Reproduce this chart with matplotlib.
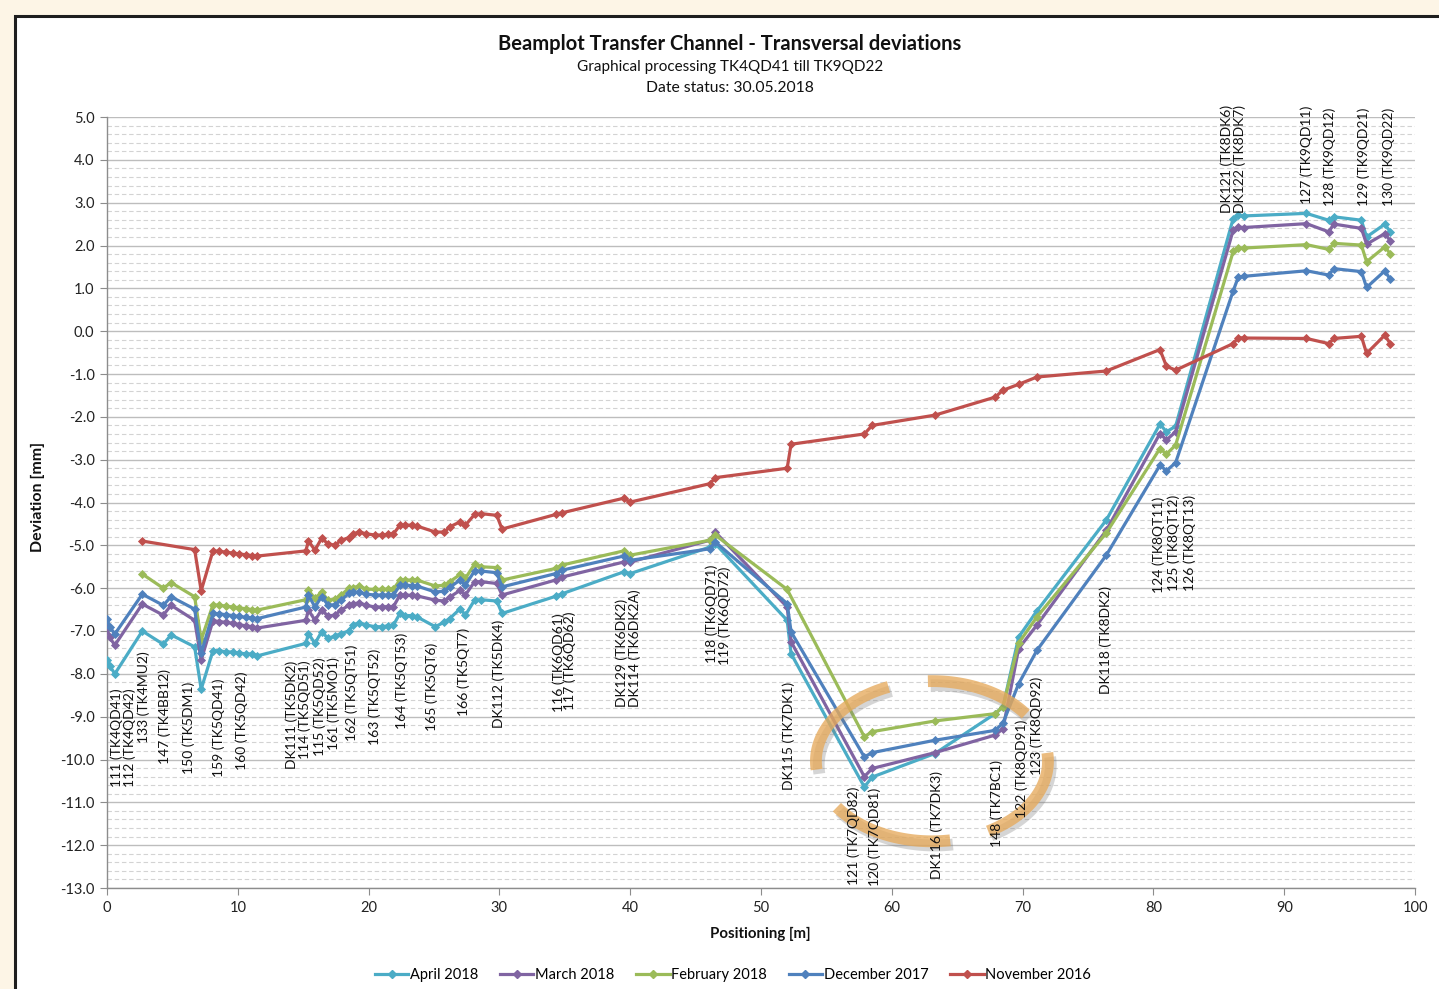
import numpy as np
import matplotlib
matplotlib.use("Agg")
import matplotlib.pyplot as plt
from matplotlib.patches import Rectangle
import matplotlib.patheffects as pe
from matplotlib.ticker import MultipleLocator, FormatStrFormatter
from matplotlib.lines import Line2D

plt.rcParams['font.family'] = ['Lato', 'DejaVu Sans']
plt.rcParams['axes.unicode_minus'] = False

# ---------------- data ----------------
stations_m = [0.0, 0.2, 0.6, 2.7, 4.3, 4.9, 6.7, 7.2, 8.1, 8.6, 9.1, 9.6, 10.1, 10.6, 11.1, 11.5,
              15.2, 15.4, 15.9, 16.4, 16.9, 17.4, 17.9, 18.5, 18.8, 19.3, 19.8, 20.5, 21.0, 21.5,
              21.9, 22.4, 22.8, 23.3, 23.7, 25.1, 25.8, 26.2, 27.0, 27.4, 28.1, 28.6, 29.8, 30.2,
              34.3, 34.8, 39.5, 40.0, 46.1, 46.5, 52.0, 52.3, 57.9, 58.5, 63.3, 67.9, 68.5, 69.7,
              71.1, 76.4, 80.5, 81.0, 81.7, 86.1, 86.5, 86.9, 91.7, 93.4, 93.8, 95.9, 96.3, 97.7, 98.1]

april_2018 = [-7.68, -7.81, -8.00, -7.00, -7.31, -7.09, -7.37, -8.36, -7.46, -7.46, -7.49, -7.49, -7.52, -7.53, -7.54, -7.58,
              -7.29, -7.06, -7.29, -7.02, -7.17, -7.12, -7.06, -7.00, -6.86, -6.81, -6.86, -6.90, -6.90, -6.88,
              -6.86, -6.59, -6.64, -6.64, -6.67, -6.90, -6.79, -6.71, -6.48, -6.63, -6.28, -6.27, -6.30, -6.59,
              -6.19, -6.13, -5.62, -5.66, -5.04, -4.96, -6.75, -7.53, -10.64, -10.41, -9.86, -8.93, -8.77, -7.14,
              -6.53, -4.41, -2.17, -2.35, -2.22, 2.63, 2.71, 2.69, 2.75, 2.59, 2.67, 2.59, 2.20, 2.50, 2.32]

march_2018 = [-6.93, -7.15, -7.33, -6.37, -6.63, -6.40, -6.75, -7.68, -6.76, -6.78, -6.80, -6.82, -6.85, -6.88, -6.90, -6.93,
              -6.75, -6.51, -6.75, -6.51, -6.65, -6.63, -6.51, -6.40, -6.37, -6.34, -6.40, -6.44, -6.44, -6.43,
              -6.43, -6.16, -6.16, -6.17, -6.18, -6.28, -6.30, -6.21, -6.05, -6.16, -5.85, -5.85, -5.89, -6.16,
              -5.81, -5.74, -5.39, -5.39, -4.88, -4.69, -6.44, -7.25, -10.40, -10.21, -9.84, -9.43, -9.28, -7.41,
              -6.86, -4.65, -2.39, -2.54, -2.35, 2.36, 2.43, 2.42, 2.51, 2.32, 2.50, 2.40, 2.03, 2.28, 2.11]

february_2018 = [None, None, None, -5.67, -6.00, -5.87, -6.20, -7.21, -6.39, -6.40, -6.42, -6.44, -6.46, -6.48, -6.50, -6.51,
                 -6.27, -6.05, -6.24, -6.09, -6.28, -6.26, -6.16, -6.00, -5.99, -5.95, -6.02, -6.03, -6.03, -6.02,
                 -6.02, -5.81, -5.81, -5.81, -5.81, -5.95, -5.93, -5.85, -5.68, -5.77, -5.44, -5.50, -5.52, -5.81,
                 -5.54, -5.46, -5.13, -5.23, -4.88, -4.76, -6.03, None, -9.47, -9.35, -9.10, -8.93, -8.77, -7.28,
                 -6.67, -4.71, -2.74, -2.87, -2.66, 1.86, 1.93, 1.94, 2.02, 1.91, 2.05, 2.01, 1.62, 1.97, 1.81]

december_2017 = [-6.72, -6.90, -7.07, -6.14, -6.40, -6.20, -6.49, -7.52, -6.59, -6.60, -6.62, -6.64, -6.66, -6.68, -6.70, -6.71,
                 -6.44, -6.16, -6.44, -6.20, -6.39, -6.39, -6.28, -6.12, -6.10, -6.09, -6.14, -6.16, -6.16, -6.16,
                 -6.16, -5.93, -5.93, -5.94, -5.95, -6.09, -6.07, -5.98, -5.81, -5.93, -5.60, -5.60, -5.64, -5.97,
                 -5.66, -5.58, -5.25, -5.35, -5.08, -4.92, -6.36, -7.02, -9.94, -9.84, -9.55, -9.32, -9.15, -8.23,
                 -7.45, -5.23, -3.13, -3.26, -3.07, 0.94, 1.27, 1.28, 1.41, 1.31, 1.46, 1.39, 1.02, 1.41, 1.21]

november_2016 = [None, None, None, -4.90, None, None, -5.10, -6.06, -5.13, -5.14, -5.16, -5.18, -5.20, -5.22, -5.24, -5.25,
                 -5.13, -4.90, -5.11, -4.84, -4.96, -5.00, -4.88, -4.82, -4.73, -4.69, -4.73, -4.76, -4.76, -4.74,
                 -4.73, -4.53, -4.53, -4.53, -4.55, -4.69, -4.69, -4.57, -4.45, -4.53, -4.28, -4.26, -4.30, -4.62,
                 -4.28, -4.24, -3.90, -3.99, -3.56, -3.42, -3.20, -2.64, -2.40, -2.20, -1.96, -1.54, -1.38, -1.24,
                 -1.07, -0.93, -0.43, -0.82, -0.91, -0.29, -0.15, -0.16, -0.17, -0.29, -0.17, -0.12, -0.52, -0.09, -0.29]

series_names = ["April 2018", "March 2018", "February 2018", "December 2017", "November 2016"]
series_values = [april_2018, march_2018, february_2018, december_2017, november_2016]
series_colors = ["#4BACC6", "#8064A2", "#9BBB59", "#4F81BD", "#C0504D"]

element_labels = ["111 (TK4QD41)", "112 (TK4QD42)", "133 (TK4MU2)", "147 (TK4BB12)", "150 (TK5DM1)",
                  "159 (TK5QD41)", "160 (TK5QD42)", "DK111 (TK5DK2)", "114 (TK5QD51)", "115 (TK5QD52)",
                  "161 (TK5MO1)", "162 (TK5QT51)", "163 (TK5QT52)", "164 (TK5QT53)", "165 (TK5QT6)",
                  "166 (TK5QT7)", "DK112 (TK5DK4)", "116 (TK6QD61)", "117 (TK6QD62)", "DK129 (TK6DK2)",
                  "DK114 (TK6DK2A)", "118 (TK6QD71)", "119 (TK6QD72)", "DK115 (TK7DK1)", "121 (TK7QD82)",
                  "120 (TK7QD81)", "DK116 (TK7DK3)", "148 (TK7BC1)", "122 (TK8QD91)", "123 (TK8QD92)",
                  "DK118 (TK8DK2)", "124 (TK8QT11)", "125 (TK8QT12)", "126 (TK8QT13)", "DK121 (TK8DK6)",
                  "DK122 (TK8DK7)", "127 (TK9QD11)", "128 (TK9QD12)", "129 (TK9QD21)", "130 (TK9QD22)"]
label_x = [0.74, 1.76, 2.78, 4.43, 6.22, 8.51, 10.30, 14.12, 15.14, 16.23, 17.30, 18.71, 20.49, 22.53,
           24.82, 27.24, 29.92, 34.50, 35.40, 39.35, 40.37, 46.23, 47.25, 52.09, 57.06, 58.72, 63.43,
           68.02, 69.93, 71.08, 76.38, 80.38, 81.52, 82.80, 85.60, 86.62, 91.72, 93.50, 96.05, 97.96]
label_y = [-9.50, -9.50, -8.55, -9.00, -9.27, -9.26, -9.09, -8.96, -8.84, -8.76, -8.69, -8.44, -8.54, -8.17,
           -8.30, -7.95, -7.99, -7.74, -7.70, -7.51, -7.41, -6.59, -6.65, -9.45, -11.79, -11.81, -11.52,
           -11.03, -10.21, -9.22, -7.21, -4.98, -4.94, -4.94, 4.01, 4.01, 4.11, 4.07, 4.07, 4.07]

# highlight ring (decoration): centre, radii and arc segments in degrees
ring_center = (63.07, -10.04)
ring_radii = (8.87, 1.87)
ring_segments = [(112, 186), (36, 92), (215, 279), (299, 366)]

# ---------------- figure ----------------
W, H = 1439, 989
fig = plt.figure(figsize=(W / 100, H / 100), dpi=100)
fig.patch.set_facecolor("#FDF5E6")

frame = Rectangle((15 / W, -0.05), 1.2, 1.05 - 16 / H, transform=fig.transFigure,
                  facecolor="white", edgecolor="#1E1E1E", linewidth=2.2, zorder=0)
fig.add_artist(frame)

ax = fig.add_axes([107 / W, 1 - 888 / H, (1415 - 107) / W, (888 - 117) / H])
ax.set_facecolor("white")

for name, vals, col in zip(series_names, series_values, series_colors):
    xs = [x for x, v in zip(stations_m, vals) if v is not None]
    ys = [v for v in vals if v is not None]
    ax.plot(xs, ys, color=col, lw=2.3, marker="D", markersize=3.8,
            markeredgewidth=0.6, label=name, zorder=3)

ax.set_xlim(0, 100)
ax.set_ylim(-13, 5)
ax.xaxis.set_major_locator(MultipleLocator(10))
ax.yaxis.set_major_locator(MultipleLocator(1))
ax.yaxis.set_minor_locator(MultipleLocator(0.2))
ax.yaxis.set_major_formatter(FormatStrFormatter("%.1f"))

ax.yaxis.grid(True, which="major", color="#BDBDBD", lw=1.0, zorder=0)
ax.yaxis.grid(True, which="minor", color="#D3D3D3", lw=0.8, ls=(0, (4, 2.5)), zorder=0)
ax.set_axisbelow(True)

for s in ["top", "right"]:
    ax.spines[s].set_visible(False)
for s in ["left", "bottom"]:
    ax.spines[s].set_color("#8C8C8C")
    ax.spines[s].set_linewidth(1.0)
ax.tick_params(axis="both", which="major", length=5, color="#8C8C8C",
               labelsize=10.5, labelcolor="#222222", pad=4)
ax.tick_params(axis="y", which="minor", length=0)

ax.set_ylabel("Deviation [mm]", fontsize=11.5, fontweight="bold", color="#111111")
ax.yaxis.set_label_coords((45 - 107) / (1415 - 107), (888 - 497) / (888 - 117))
ax.set_xlabel("Positioning [m]", fontsize=10.8, fontweight="bold", color="#111111")
ax.xaxis.set_label_coords((760 - 107) / (1415 - 107), (888 - 927) / (888 - 117))

# highlight ring
cx, cy = ring_center
rx, ry = ring_radii
for a0, a1 in ring_segments:
    t = np.deg2rad(np.linspace(a0, a1, 60))
    ax.plot(cx + rx * np.cos(t), cy + ry * np.sin(t), color="#E6AA5C", alpha=0.78,
            lw=8.5, solid_capstyle="butt", zorder=5,
            path_effects=[pe.SimpleLineShadow(offset=(2, -3), shadow_color="#777777", alpha=0.3),
                          pe.Normal()])

for txt, lx, ly in zip(element_labels, label_x, label_y):
    ax.text(lx, ly, txt, rotation=90, ha="center", va="center", fontsize=10,
            color="#111111", zorder=6)

# titles
fig.text(730 / W, 1 - 44 / H, "Beamplot Transfer Channel - Transversal deviations",
         ha="center", va="center", fontsize=14.5, fontweight="bold", color="#111111")
fig.text(730 / W, 1 - 67 / H, "Graphical processing TK4QD41 till TK9QD22",
         ha="center", va="center", fontsize=11, color="#111111")
fig.text(730 / W, 1 - 88 / H, "Date status: 30.05.2018",
         ha="center", va="center", fontsize=11.3, color="#111111")

handles = [Line2D([0], [0], color=c, lw=2.3, marker="D", markersize=3.8) for c in series_colors]
fig.legend(handles, series_names, loc="center", bbox_to_anchor=(733 / W, 1 - 975 / H), ncol=5,
           frameon=False, fontsize=10.5, handlelength=2.3, handletextpad=0.1, columnspacing=1.5)

fig.savefig("out.png", dpi=100, facecolor=fig.get_facecolor())
